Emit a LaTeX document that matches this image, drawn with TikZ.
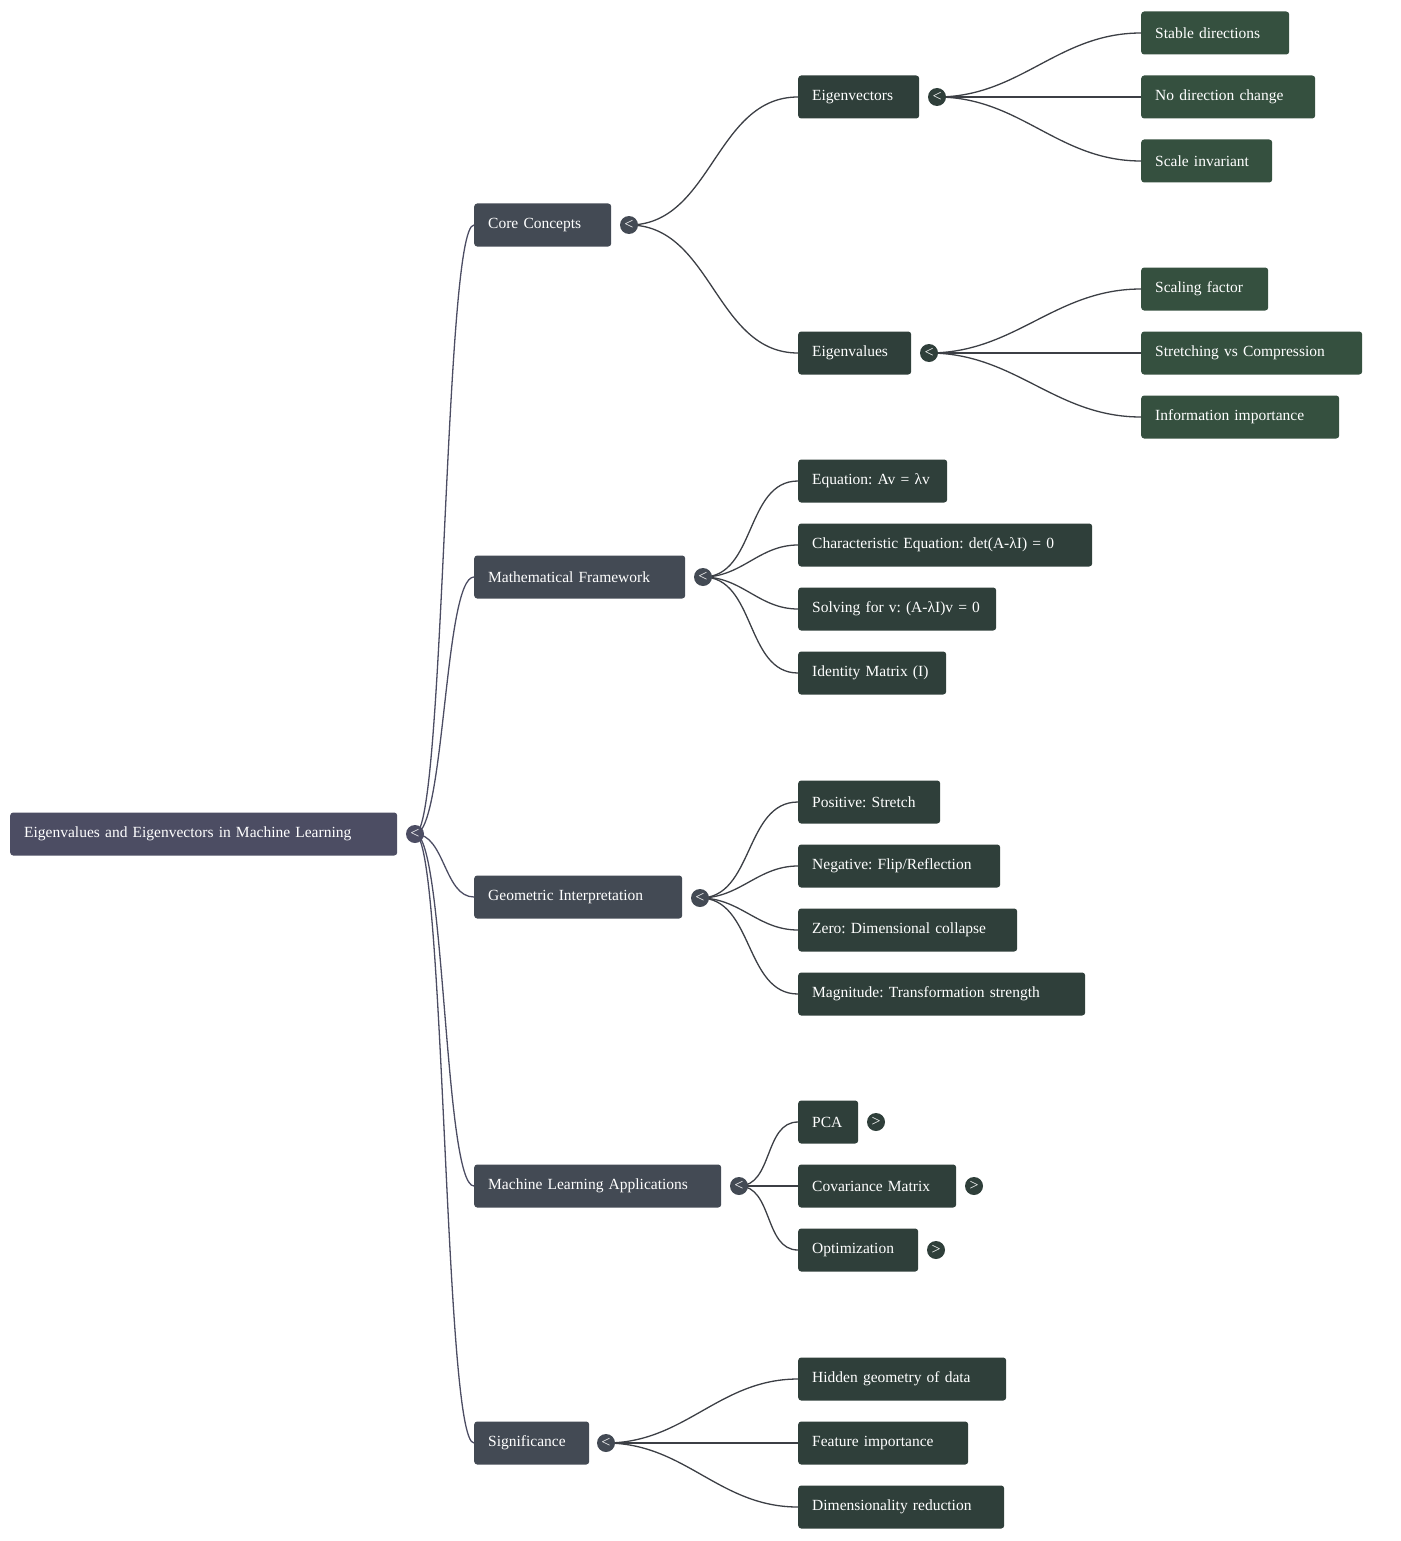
\documentclass[tikz,border=0pt]{standalone}
\usepackage{fontspec}
\setmainfont{Liberation Serif}
\frenchspacing
\definecolor{rootc}{HTML}{4C4D63}
\definecolor{onec}{HTML}{434A54}
\definecolor{twoc}{HTML}{2F3F3A}
\definecolor{threec}{HTML}{35503F}
\definecolor{edgec}{HTML}{3C3F45}
\tikzset{
  box/.style={draw=none, rounded corners=3pt, anchor=west, minimum height=43pt,
    inner xsep=14pt, align=left, text=white, font=\fontsize{15.5}{18}\selectfont},
  root/.style={box, fill=rootc},
  one/.style={box, fill=onec},
  two/.style={box, fill=twoc},
  three/.style={box, fill=threec},
  tog/.style={circle, inner sep=0pt, minimum size=18pt, text=white, font=\fontsize{16}{16}\selectfont},
  link/.style={edgec, line width=1.3pt},
}
\begin{document}
\begin{tikzpicture}[x=1pt, y=-1pt]
  \useasboundingbox (0,0) rectangle (1400,1541);

  % boxes: name/x/y/width/text
  \node[root, text width=359pt] (rt) at (10,834) {Eigenvalues and Eigenvectors in Machine Learning};
  \foreach \n/\y/\w/\t in {core/225/137/Core Concepts, math/577/211/Mathematical Framework,
      geo/897/208/Geometric Interpretation, ml/1186/247/Machine Learning Applications,
      sig/1443/115/Significance}
    \node[one, text width={\w-28}] (\n) at (474,\y) {\mbox{\t}};
  \foreach \n/\y/\w/\t in {evec/97/121/Eigenvectors, eval/353/113/Eigenvalues,
      m1/481/149/{Equation: Av = λv}, m2/545/294/{Characteristic Equation: det(A-λI) = 0},
      m3/609/198/{Solving for v: (A-λI)v = 0}, m4/673/148/{Identity Matrix (I)},
      g1/802/142/{Positive: Stretch}, g2/866/202/{Negative: Flip/Reflection},
      g3/930/219/{Zero: Dimensional collapse}, g4/994/287/{Magnitude: Transformation strength},
      a1/1122/60/PCA, a2/1186/158/Covariance Matrix, a3/1250/120/Optimization,
      s1/1379/208/Hidden geometry of data, s2/1443/170/Feature importance,
      s3/1507/206/Dimensionality reduction}
    \node[two, text width={\w-28}] (\n) at (798,\y) {\mbox{\t}};
  \foreach \n/\y/\w/\t in {v1/33/148/Stable directions, v2/97/174/No direction change,
      v3/161/131/Scale invariant, e1/289/127/Scaling factor,
      e2/353/221/Stretching vs Compression, e3/417/198/Information importance}
    \node[three, text width={\w-28}] (\n) at (1141,\y) {\mbox{\t}};

  % toggle points
  \coordinate (trt) at (415,834);
  \coordinate (tcore) at (629,225);
  \coordinate (tmath) at (703,577);
  \coordinate (tgeo) at (700,898);
  \coordinate (tml) at (739,1186);
  \coordinate (tsig) at (606,1443);
  \coordinate (tevec) at (937,97);
  \coordinate (teval) at (929,353);

  % connectors
  \foreach \c in {core,math,geo,ml,sig}
    \draw[link, rootc] (trt) .. controls +(30,0) and +(-30,0) .. (\c.west);
  \draw[link] (tcore) to[out=0, in=180] (evec.west);
  \draw[link] (tcore) to[out=0, in=180] (eval.west);
  \foreach \c in {m1,m2,m3,m4}
    \draw[link] (tmath) to[out=0, in=180] (\c.west);
  \foreach \c in {g1,g2,g3,g4}
    \draw[link] (tgeo) to[out=0, in=180] (\c.west);
  \foreach \c in {a1,a2,a3}
    \draw[link] (tml) to[out=0, in=180] (\c.west);
  \foreach \c in {s1,s2,s3}
    \draw[link] (tsig) to[out=0, in=180] (\c.west);
  \foreach \c in {v1,v2,v3}
    \draw[link] (tevec) to[out=0, in=180] (\c.west);
  \foreach \c in {e1,e2,e3}
    \draw[link] (teval) to[out=0, in=180] (\c.west);

  % toggles
  \node[tog, fill=rootc] at (trt) {<};
  \foreach \p in {tcore,tmath,tgeo,tml,tsig}
    \node[tog, fill=onec] at (\p) {<};
  \foreach \p in {tevec,teval}
    \node[tog, fill=twoc] at (\p) {<};
  \node[tog, fill=twoc] (pa1) at (876,1122) {>};
  \node[tog, fill=twoc] (pa2) at (974,1186) {>};
  \node[tog, fill=twoc] (pa3) at (936,1250) {>};
\end{tikzpicture}
\end{document}
